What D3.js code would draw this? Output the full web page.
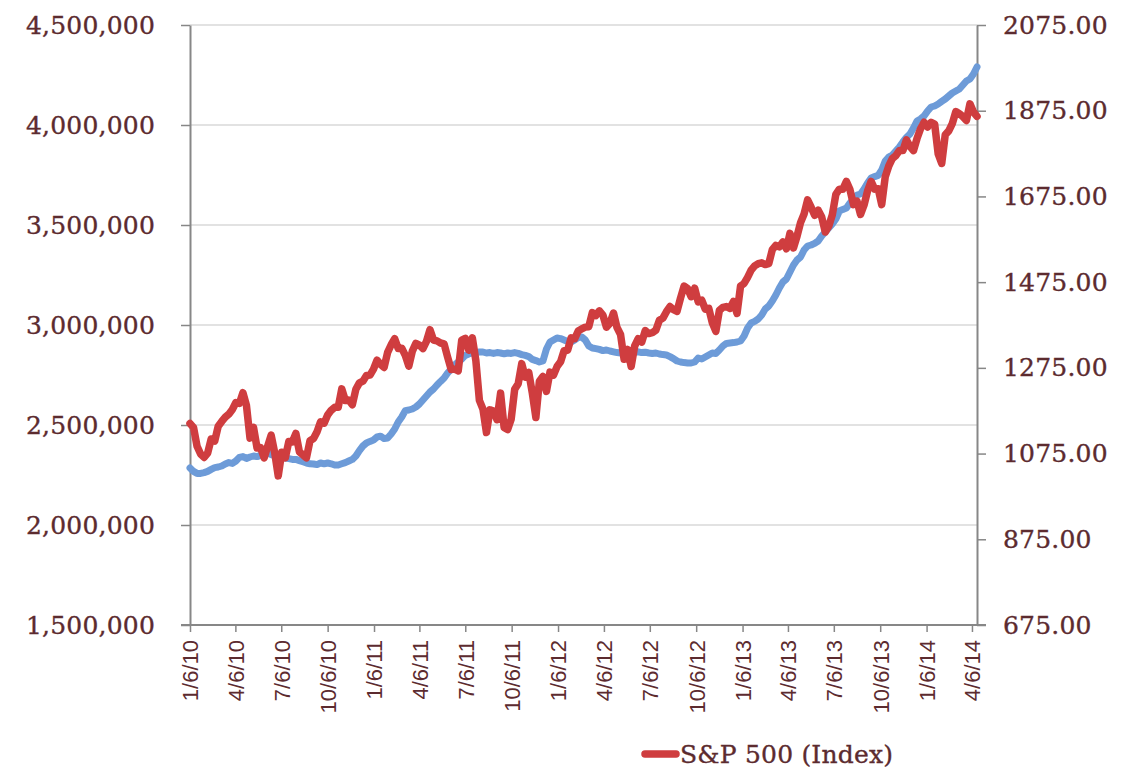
<!DOCTYPE html>
<html>
<head>
<meta charset="utf-8">
<script src="https://cdn.jsdelivr.net/npm/d3@7"></script>
<style>
  html, body { margin: 0; padding: 0; background: #ffffff; }
  svg { display: block; }
</style>
</head>
<body>
<svg id="chart" width="1131" height="782"></svg>
<script>
// ---------------- DATA ----------------
// Weekly observations (one per week, Wednesdays) starting 1/6/10
const firstWeek = "1/6/10";

// Blue series (left axis) – weekly values
const leftSeries = [
  // 2010
  2285000,2268000,2258000,2258000,2262000,2268000,2278000,2287000,2290000,2295000,
  2305000,2312000,2308000,2320000,2338000,2342000,2333000,2340000,2345000,2342000,
  2348000,2355000,2360000,2352000,2347000,2342000,2337000,2335000,2332000,2328000,
  2328000,2322000,2316000,2310000,2306000,2305000,2302000,2310000,2306000,2310000,
  2306000,2300000,2300000,2306000,2312000,2320000,2328000,2345000,2372000,2395000,
  2410000,2418000,
  // 2011
  2425000,2440000,2444000,2432000,2435000,2455000,2480000,2515000,2540000,2572000,
  2575000,2580000,2590000,2605000,2625000,2645000,2665000,2680000,2700000,2718000,
  2735000,2760000,2780000,2800000,2815000,2830000,2848000,2855000,2860000,2862000,
  2865000,2865000,2860000,2862000,2858000,2862000,2860000,2856000,2860000,2858000,
  2862000,2858000,2852000,2848000,2842000,2828000,2822000,2815000,2820000,2880000,
  2915000,2925000,
  // 2012
  2935000,2932000,2925000,2918000,2915000,2925000,2938000,2940000,2925000,2895000,
  2885000,2882000,2878000,2872000,2875000,2870000,2866000,2862000,2860000,2862000,
  2866000,2865000,2864000,2866000,2862000,2864000,2860000,2858000,2860000,2855000,
  2852000,2850000,2842000,2832000,2820000,2815000,2812000,2810000,2810000,2815000,
  2835000,2830000,2840000,2850000,2860000,2858000,2875000,2895000,2908000,2910000,
  2912000,2915000,
  // 2013
  2920000,2945000,2985000,3010000,3018000,3030000,3050000,3080000,3095000,3120000,
  3150000,3185000,3215000,3230000,3265000,3300000,3325000,3340000,3375000,3395000,
  3400000,3408000,3420000,3445000,3465000,3485000,3505000,3530000,3570000,3578000,
  3585000,3610000,3630000,3650000,3655000,3680000,3710000,3735000,3742000,3748000,
  3775000,3820000,3840000,3850000,3870000,3890000,3915000,3938000,3955000,3985000,
  4020000,4030000,
  // 2014
  4045000,4070000,4090000,4095000,4105000,4118000,4130000,4145000,4160000,4170000,
  4180000,4200000,4220000,4230000,4255000,4290000
];

// S&P 500 (Index) – right axis, weekly values
const spSeries = [
  // 2010
  1145,1136,1092,1074,1066,1076,1109,1104,1139,1150,
  1160,1167,1178,1194,1192,1217,1187,1111,1136,1088,
  1089,1065,1092,1118,1077,1023,1078,1065,1103,1102,
  1122,1079,1072,1065,1105,1110,1126,1149,1146,1165,
  1176,1183,1183,1226,1199,1200,1189,1225,1240,1244,
  1257,1258,
  // 2011
  1272,1293,1283,1276,1311,1329,1343,1320,1321,1304,
  1279,1314,1332,1328,1320,1337,1364,1340,1338,1333,
  1331,1300,1271,1272,1268,1340,1344,1316,1345,1292,
  1199,1179,1124,1177,1174,1154,1216,1136,1131,1155,
  1225,1238,1285,1253,1264,1216,1159,1244,1255,1220,
  1265,1258,
  // 2012
  1278,1289,1315,1316,1345,1343,1361,1366,1370,1371,
  1404,1397,1408,1398,1370,1379,1403,1369,1353,1295,
  1318,1278,1326,1343,1335,1362,1355,1357,1363,1386,
  1391,1406,1418,1411,1407,1438,1466,1460,1441,1461,
  1429,1433,1412,1414,1380,1360,1409,1416,1418,1414,
  1430,1402,
  // 2013
  1466,1472,1486,1503,1513,1518,1520,1516,1518,1551,
  1561,1557,1569,1553,1589,1555,1582,1614,1634,1667,
  1650,1631,1643,1627,1592,1606,1632,1680,1692,1692,
  1710,1691,1656,1664,1633,1655,1688,1710,1692,1693,
  1656,1721,1746,1763,1770,1782,1782,1807,1792,1782,
  1810,1833,
  // 2014
  1848,1837,1848,1844,1774,1752,1819,1828,1845,1873,
  1868,1861,1852,1891,1872,1862
];

const xTickLabels = ["1/6/10","4/6/10","7/6/10","10/6/10","1/6/11","4/6/11","7/6/11","10/6/11",
  "1/6/12","4/6/12","7/6/12","10/6/12","1/6/13","4/6/13","7/6/13","10/6/13","1/6/14","4/6/14"];
const leftTicks = [1500000,2000000,2500000,3000000,3500000,4000000,4500000];
const rightTicks = [675,875,1075,1275,1475,1675,1875,2075];
const legendLabel = "S&P 500 (Index)";

// ---------------- LAYOUT ----------------
const parse = d3.timeParse("%-m/%-d/%y");
const start = parse(firstWeek);
const dates = leftSeries.map((_, i) => d3.timeDay.offset(start, 7 * i));

const plot = { left: 190, right: 977, top: 25, bottom: 625 };
const textColor = "#5c2b2f";
const axisColor = "#878787";
const gridColor = "#d9d9d9";
const blue = "#6d9bd8";
const red = "#cf3d3f";
const serif = "'DejaVu Serif', serif";
const sans = "'Liberation Sans', Arial, sans-serif";

const x = d3.scaleTime()
  .domain([start, dates[dates.length - 1]])
  .range([plot.left, plot.right]);
const yL = d3.scaleLinear().domain([1500000, 4500000]).range([plot.bottom, plot.top]);
const yR = d3.scaleLinear().domain([675, 2075]).range([plot.bottom, plot.top]);

const svg = d3.select("#chart");

// gridlines
svg.append("g")
  .selectAll("line")
  .data(leftTicks)
  .join("line")
  .attr("x1", plot.left).attr("x2", plot.right)
  .attr("y1", d => yL(d)).attr("y2", d => yL(d))
  .attr("stroke", gridColor).attr("stroke-width", 1.5);

function styleLabels(sel) {
  sel.attr("fill", textColor)
    .attr("stroke", textColor).attr("stroke-width", 0.35)
    .style("font-family", serif).style("font-size", "25px")
    .style("letter-spacing", "0.2px");
}

// left axis
const fmtL = d3.format(",");
const gL = svg.append("g")
  .attr("transform", `translate(${plot.left},0)`)
  .call(d3.axisLeft(yL).tickValues(leftTicks).tickFormat(fmtL).tickSizeInner(9).tickSizeOuter(0).tickPadding(26));
gL.select(".domain").attr("stroke", axisColor).attr("stroke-width", 2);
gL.selectAll(".tick line").attr("stroke", axisColor).attr("stroke-width", 1.5);
styleLabels(gL.selectAll(".tick text"));

// right axis
const fmtR = d3.format(".2f");
const gR = svg.append("g")
  .attr("transform", `translate(${plot.right},0)`)
  .call(d3.axisRight(yR).tickValues(rightTicks).tickFormat(fmtR).tickSizeInner(9).tickSizeOuter(0).tickPadding(17));
gR.select(".domain").attr("stroke", axisColor).attr("stroke-width", 2);
gR.selectAll(".tick line").attr("stroke", axisColor).attr("stroke-width", 1.5);
styleLabels(gR.selectAll(".tick text"));

// bottom axis
const tickDates = xTickLabels.map(parse);
const gX = svg.append("g")
  .attr("transform", `translate(0,${plot.bottom})`)
  .call(d3.axisBottom(x).tickValues(tickDates).tickFormat((d, i) => xTickLabels[i]).tickSizeInner(7).tickSizeOuter(0));
gX.select(".domain").remove();
gX.append("line")
  .attr("x1", plot.left - 9).attr("x2", plot.right + 9).attr("y1", 0).attr("y2", 0)
  .attr("stroke", axisColor).attr("stroke-width", 2);
gX.selectAll(".tick line").attr("stroke", axisColor).attr("stroke-width", 1.5);
gX.selectAll(".tick text")
  .attr("fill", textColor)
  .style("font-family", sans).style("font-size", "22px")
  .attr("text-anchor", "end")
  .attr("transform", "rotate(-90)")
  .attr("x", -15).attr("y", 0).attr("dy", "0.36em");

// lines
const lineL = d3.line().x((d, i) => x(dates[i])).y(d => yL(d));
const lineR = d3.line().x((d, i) => x(dates[i])).y(d => yR(d));

svg.append("path")
  .datum(leftSeries)
  .attr("d", lineL)
  .attr("fill", "none").attr("stroke", blue).attr("stroke-width", 7)
  .attr("stroke-linejoin", "round").attr("stroke-linecap", "round");

svg.append("path")
  .datum(spSeries)
  .attr("d", lineR)
  .attr("fill", "none").attr("stroke", red).attr("stroke-width", 7.5)
  .attr("stroke-linejoin", "round").attr("stroke-linecap", "round");

// legend
const lg = svg.append("g").attr("transform", "translate(642,754)");
lg.append("line").attr("x1", 3).attr("x2", 34).attr("y1", 0).attr("y2", 0)
  .attr("stroke", red).attr("stroke-width", 7.5).attr("stroke-linecap", "round");
const lt = lg.append("text").attr("x", 38).attr("y", 9).text(legendLabel);
styleLabels(lt);
</script>
</body>
</html>
